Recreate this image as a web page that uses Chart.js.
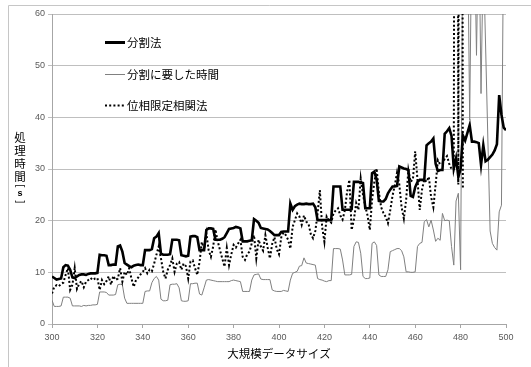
<!DOCTYPE html>
<html><head><meta charset="utf-8">
<script src="https://cdn.jsdelivr.net/npm/chart.js@4.4.1/dist/chart.umd.min.js"></script>
<style>html,body{margin:0;padding:0;background:#fff;}canvas{display:block;}</style>
</head><body>
<canvas id="c" width="531" height="367"></canvas>
<script>
// データサイズ (x)
const sizes = [
300,301,302,303,304,305,306,307,308,309,
310,311,312,313,314,315,316,317,318,319,
320,321,322,323,324,325,326,327,328,329,
330,331,332,333,334,335,336,337,338,339,
340,341,342,343,344,345,346,347,348,349,
350,351,352,353,354,355,356,357,358,359,
360,361,362,363,364,365,366,367,368,369,
370,371,372,373,374,375,376,377,378,379,
380,381,382,383,384,385,386,387,388,389,
390,391,392,393,394,395,396,397,398,399,
400,401,402,403,404,405,406,407,408,409,
410,411,412,413,414,415,416,417,418,419,
420,421,422,423,424,425,426,427,428,429,
430,431,432,433,434,435,436,437,438,439,
440,441,442,443,444,445,446,447,448,449,
450,451,452,453,454,455,456,457,458,459,
460,461,462,463,464,465,466,467,468,469,
470,471,472,473,474,475,476,477,478,479,
480,481,482,483,484,485,486,487,488,489,
490,491,492,493,494,495,496,497,498,499,
500];

// 分割法
const splitMethod = [
9.2,8.9,8.6,8.7,8.8,11.0,11.4,11.3,10.5,9.0,
8.9,9.2,9.5,9.6,9.6,9.5,9.7,9.8,9.8,9.8,
9.9,13.4,13.3,13.3,13.2,11.4,11.4,11.5,11.5,15.0,
15.2,14.0,11.8,11.5,11.2,11.0,11.3,11.4,11.5,11.4,
11.4,14.3,14.3,14.3,14.5,16.6,16.9,17.6,13.6,13.4,
13.4,13.4,13.5,16.3,16.3,16.3,16.2,13.3,13.2,13.1,
13.2,16.9,17.0,17.0,16.8,14.3,14.3,14.3,18.2,18.5,
18.5,18.4,16.3,16.3,16.3,16.5,16.8,17.6,18.4,18.5,
18.6,18.8,18.7,18.5,16.0,16.0,16.0,16.1,16.2,20.3,
20.0,19.6,18.6,18.5,18.4,18.3,18.0,17.6,17.2,17.2,
17.2,17.8,17.9,17.9,17.9,23.3,22.1,22.8,23.1,23.3,
23.2,23.2,23.3,23.2,23.2,23.3,22.6,20.1,20.1,20.1,
20.1,20.1,20.1,20.1,26.6,26.6,26.6,26.6,22.1,22.1,
22.1,22.1,22.2,27.5,27.5,27.5,27.4,27.3,22.4,22.4,
22.4,29.2,29.5,28.0,23.8,23.7,23.7,24.2,25.3,26.0,
26.6,26.6,26.7,30.5,30.3,30.1,30.0,29.8,24.8,24.6,
26.5,27.5,27.9,27.9,27.9,34.6,35.0,35.3,35.9,31.0,
29.6,29.8,29.8,36.8,37.3,37.9,36.4,30.1,32.1,28.5,
30.0,36.5,35.5,37.0,38.5,35.3,35.3,35.2,35.0,30.8,
34.6,31.5,31.8,32.3,32.8,33.6,34.8,44.3,40.5,38.0,
37.5];

// 分割に要した時間
const splitTime = [
4.6,3.4,3.4,3.4,3.5,5.2,5.2,5.2,5.0,3.5,
3.5,3.5,3.5,3.4,3.6,3.5,3.6,3.6,3.7,3.7,
3.8,6.2,6.2,6.2,6.1,5.6,5.6,5.6,5.7,7.6,
7.7,7.6,5.0,4.0,4.0,4.0,4.0,4.0,4.0,4.0,
4.0,6.3,6.4,6.4,8.0,8.8,9.2,8.5,4.8,4.5,
4.5,4.6,7.6,7.7,7.7,7.8,7.0,4.5,4.4,4.4,
4.5,7.8,7.8,7.9,7.9,5.8,5.6,7.0,8.5,8.6,
8.5,8.4,8.3,8.2,8.2,8.2,8.2,8.2,8.2,8.4,
8.5,8.4,8.3,8.2,6.3,6.3,6.3,6.3,8.5,9.5,
9.6,9.7,8.7,8.6,8.6,8.6,8.6,6.6,6.4,6.3,
6.3,6.3,6.5,6.4,6.3,8.5,9.8,10.0,10.2,11.2,
11.3,12.8,11.8,11.7,11.6,11.5,11.4,8.8,8.6,8.5,
8.3,8.2,8.4,8.4,14.6,14.6,14.6,14.5,12.4,9.5,
9.5,9.5,9.6,15.0,15.9,15.8,13.7,9.2,8.8,8.8,
8.9,15.6,15.9,15.2,9.5,9.2,9.2,9.2,10.5,14.0,
14.2,14.4,14.6,14.6,14.2,13.0,10.1,10.1,10.0,10.0,
10.1,15.0,15.6,15.8,19.8,20.2,18.8,20.1,18.2,16.0,
16.6,16.2,21.4,20.0,20.1,20.0,15.0,11.4,23.8,25.3,
10.5,80,80,80,39.5,80,80,52,80,44.6,
72,54,36,18,15.6,14.8,14.3,21.7,23.0,80,
80];

// 位相限定相関法 (300–481)
const pocMethod = [
5.9,7.2,7.5,7.3,7.8,8.0,9.5,10.8,6.6,7.6,
10.8,6.8,7.8,8.3,7.1,8.2,8.5,8.9,8.5,8.8,
8.9,6.6,8.5,7.7,8.3,9.2,7.6,9.3,8.5,8.8,
10.8,8.2,10.1,9.5,10.8,8.8,7.2,8.5,9.0,9.6,
10.1,10.8,9.8,10.5,10.2,11.7,13.4,15.0,12.7,10.1,
8.8,10.5,11.4,12.7,10.1,11.7,12.0,10.5,11.7,11.2,
8.8,12.1,12.3,10.8,9.5,12.0,15.9,14.4,17.5,14.3,
13.0,15.0,18.3,16.0,14.3,12.7,11.1,14.7,11.4,13.5,
15.3,14.8,15.6,16.3,13.0,12.4,13.5,14.0,15.6,17.2,
12.7,16.3,15.0,14.2,17.2,14.8,12.7,15.5,16.8,14.5,
13.5,16.8,17.7,17.2,16.3,14.6,18.8,20.1,21.4,20.8,
19.2,21.0,19.8,19.4,17.4,16.6,18.0,21.4,25.9,18.8,
15.9,20.8,20.0,19.6,21.4,22.0,22.4,21.0,20.2,22.0,
25.6,27.9,18.2,20.2,23.4,22.1,28.2,25.0,22.8,21.0,
18.2,24.0,27.5,30.1,25.5,22.6,21.5,20.7,19.5,22.0,
24.8,26.8,29.3,27.0,22.6,20.4,24.0,29.8,27.5,28.0,
33.4,28.0,22.1,26.0,28.0,27.5,28.5,24.6,22.6,27.0,
31.7,30.9,31.0,32.0,32.5,31.0,30.0,30.0,300,27.0,
300,26.0];

const seriesNames = ['分割法', '分割に要した時間', '位相限定相関法'];
const xTitle = '大規模データサイズ';
const yTitleChars = ['処', '理', '時', '間', '[', 's', ']'];

const pts = (arr) => arr.map((v, i) => ({ x: sizes[i], y: v }));

const JP = '"Noto Sans CJK JP", "Noto Sans", sans-serif';

const decor = {
  id: 'decor',
  beforeDraw(chart) {
    const ctx = chart.ctx;
    ctx.save();
    ctx.fillStyle = '#ffffff';
    ctx.fillRect(0, 0, chart.width, chart.height);
    ctx.strokeStyle = '#c6c6c6';
    ctx.lineWidth = 1;
    ctx.beginPath();
    ctx.moveTo(8.5, 367); ctx.lineTo(8.5, 5.5); ctx.lineTo(531, 5.5);
    ctx.stroke();
    ctx.restore();
  },
  afterDraw(chart) {
    const ctx = chart.ctx;
    ctx.save();
    // legend
    const rows = [
      { y: 42, w: 3, c: '#000', dash: [] },
      { y: 74, w: 1, c: '#808080', dash: [] },
      { y: 105, w: 2, c: '#000', dash: [2, 2.2] }
    ];
    rows.forEach((r, i) => {
      ctx.beginPath();
      ctx.setLineDash(r.dash);
      ctx.lineWidth = r.w;
      ctx.strokeStyle = r.c;
      ctx.moveTo(105, r.y + 0.5); ctx.lineTo(125, r.y + 0.5);
      ctx.stroke();
      ctx.setLineDash([]);
      ctx.fillStyle = '#000';
      ctx.font = '11.5px ' + JP;
      ctx.textAlign = 'left';
      ctx.textBaseline = 'middle';
      ctx.fillText(seriesNames[i], 127, r.y + 0.5);
    });
    // x title
    ctx.font = '11.5px ' + JP;
    ctx.textAlign = 'center';
    ctx.textBaseline = 'middle';
    ctx.fillStyle = '#000';
    ctx.fillText(xTitle, 279, 354);
    // y title (vertical)
    const ys = [137.5, 151, 163.5, 176.5, 186, 194, 202];
    yTitleChars.forEach((ch, i) => {
      ctx.save();
      ctx.translate(20, ys[i]);
      if (ch === '[' || ch === ']') {
        ctx.rotate(Math.PI / 2);
        ctx.font = '10px "Liberation Sans", sans-serif';
      } else if (ch === 's') {
        ctx.font = 'bold 9px "Liberation Sans", sans-serif';
      } else {
        ctx.font = '11.5px ' + JP;
      }
      ctx.textAlign = 'center';
      ctx.textBaseline = 'middle';
      ctx.fillText(ch, 0, 0);
      ctx.restore();
    });
    ctx.restore();
  }
};

new Chart(document.getElementById('c'), {
  type: 'line',
  data: {
    datasets: [
      { label: seriesNames[0], data: pts(splitMethod), borderColor: '#000', borderWidth: 2.6, pointRadius: 0, tension: 0, order: 2 },
      { label: seriesNames[1], data: pts(splitTime), borderColor: '#808080', borderWidth: 1, pointRadius: 0, tension: 0, order: 3 },
      { label: seriesNames[2], data: pts(pocMethod), borderColor: '#000', borderWidth: 2, borderDash: [2, 2.2], pointRadius: 0, tension: 0, order: 1 }
    ]
  },
  options: {
    responsive: false,
    animation: false,
    devicePixelRatio: 1,
    layout: { padding: { left: 0, right: 25, top: 14, bottom: 0 } },
    plugins: { legend: { display: false }, tooltip: { enabled: false } },
    scales: {
      x: {
        type: 'linear', min: 300, max: 500,
        ticks: { stepSize: 20, color: '#595959', font: { size: 9, family: '"Liberation Sans", sans-serif' }, padding: 4, maxRotation: 0 },
        grid: { drawOnChartArea: false, drawTicks: true, tickLength: 4, color: '#a6a6a6' },
        border: { color: '#a6a6a6' },
        afterFit(s) { s.height = 43; }
      },
      y: {
        min: 0, max: 60,
        ticks: { stepSize: 10, color: '#595959', font: { size: 9, family: '"Liberation Sans", sans-serif' }, padding: 3 },
        grid: { color: '#bfbfbf', tickLength: 4 },
        border: { color: '#a6a6a6' },
        afterFit(s) { s.width = 52; }
      }
    }
  },
  plugins: [decor]
});
</script>
</body></html>
